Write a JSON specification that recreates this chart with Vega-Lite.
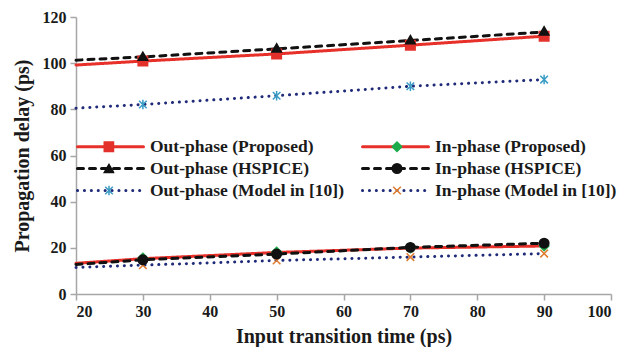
{
  "$schema": "https://vega.github.io/schema/vega-lite/v6.json",
  "width": 535,
  "height": 277,
  "autosize": "none",
  "padding": {"left": 76, "top": 17, "right": 13, "bottom": 53},
  "background": "white",
  "config": {
    "font": "Liberation Serif",
    "view": {"stroke": null},
    "axis": {
      "grid": false,
      "domainColor": "#a6a6a6",
      "domainWidth": 1.5,
      "tickColor": "#a6a6a6",
      "tickWidth": 1.5,
      "tickSize": 6,
      "labelFont": "Liberation Serif",
      "labelFontWeight": "bold",
      "labelFontSize": 16,
      "labelColor": "#1a1a1a",
      "titleFont": "Liberation Serif",
      "titleFontWeight": "bold",
      "titleFontSize": 20,
      "titleColor": "#1a1a1a"
    }
  },
  "datasets": {
    "lines": [
      {"series": "Out-phase (Proposed)", "t": 20, "delay": 99.2},
      {"series": "Out-phase (Proposed)", "t": 30, "delay": 100.9},
      {"series": "Out-phase (Proposed)", "t": 50, "delay": 104.0},
      {"series": "Out-phase (Proposed)", "t": 70, "delay": 107.8},
      {"series": "Out-phase (Proposed)", "t": 90, "delay": 111.7},
      {"series": "In-phase (Proposed)", "t": 20, "delay": 13.3},
      {"series": "In-phase (Proposed)", "t": 30, "delay": 15.3},
      {"series": "In-phase (Proposed)", "t": 50, "delay": 18.0},
      {"series": "In-phase (Proposed)", "t": 70, "delay": 19.9},
      {"series": "In-phase (Proposed)", "t": 90, "delay": 20.8},
      {"series": "Out-phase (Model in [10])", "t": 20, "delay": 80.5},
      {"series": "Out-phase (Model in [10])", "t": 30, "delay": 82.1},
      {"series": "Out-phase (Model in [10])", "t": 50, "delay": 85.9},
      {"series": "Out-phase (Model in [10])", "t": 70, "delay": 90.0},
      {"series": "Out-phase (Model in [10])", "t": 90, "delay": 92.9},
      {"series": "In-phase (Model in [10])", "t": 20, "delay": 11.5},
      {"series": "In-phase (Model in [10])", "t": 30, "delay": 12.5},
      {"series": "In-phase (Model in [10])", "t": 50, "delay": 14.5},
      {"series": "In-phase (Model in [10])", "t": 70, "delay": 16.0},
      {"series": "In-phase (Model in [10])", "t": 90, "delay": 17.5},
      {"series": "Out-phase (HSPICE)", "t": 20, "delay": 101.3},
      {"series": "Out-phase (HSPICE)", "t": 30, "delay": 102.7},
      {"series": "Out-phase (HSPICE)", "t": 50, "delay": 106.2},
      {"series": "Out-phase (HSPICE)", "t": 70, "delay": 109.8},
      {"series": "Out-phase (HSPICE)", "t": 90, "delay": 113.5},
      {"series": "In-phase (HSPICE)", "t": 20, "delay": 12.8},
      {"series": "In-phase (HSPICE)", "t": 30, "delay": 14.8},
      {"series": "In-phase (HSPICE)", "t": 50, "delay": 17.3},
      {"series": "In-phase (HSPICE)", "t": 70, "delay": 20.2},
      {"series": "In-phase (HSPICE)", "t": 90, "delay": 22.0}
    ],
    "markers": [
      {"name": "Out-phase (Proposed)", "t": 30, "delay": 100.9},
      {"name": "Out-phase (Proposed)", "t": 50, "delay": 104.0},
      {"name": "Out-phase (Proposed)", "t": 70, "delay": 107.8},
      {"name": "Out-phase (Proposed)", "t": 90, "delay": 111.7},
      {"name": "In-phase (Proposed)", "t": 30, "delay": 15.6},
      {"name": "In-phase (Proposed)", "t": 50, "delay": 18.2},
      {"name": "In-phase (Proposed)", "t": 70, "delay": 20.0},
      {"name": "In-phase (Proposed)", "t": 90, "delay": 20.8},
      {"name": "Out-phase (Model in [10])", "t": 30, "delay": 82.1},
      {"name": "Out-phase (Model in [10])", "t": 50, "delay": 85.9},
      {"name": "Out-phase (Model in [10])", "t": 70, "delay": 90.0},
      {"name": "Out-phase (Model in [10])", "t": 90, "delay": 92.9},
      {"name": "In-phase (Model in [10])", "t": 30, "delay": 12.5},
      {"name": "In-phase (Model in [10])", "t": 50, "delay": 14.5},
      {"name": "In-phase (Model in [10])", "t": 70, "delay": 16.0},
      {"name": "In-phase (Model in [10])", "t": 90, "delay": 17.5},
      {"name": "Out-phase (HSPICE)", "t": 30, "delay": 103.0},
      {"name": "Out-phase (HSPICE)", "t": 50, "delay": 106.6},
      {"name": "Out-phase (HSPICE)", "t": 70, "delay": 110.2},
      {"name": "Out-phase (HSPICE)", "t": 90, "delay": 114.0},
      {"name": "In-phase (HSPICE)", "t": 30, "delay": 14.8},
      {"name": "In-phase (HSPICE)", "t": 50, "delay": 17.3},
      {"name": "In-phase (HSPICE)", "t": 70, "delay": 20.2},
      {"name": "In-phase (HSPICE)", "t": 90, "delay": 22.0}
    ]
  },
  "layer": [
    {
      "data": {"name": "lines"},
      "mark": {"type": "line", "strokeWidth": 3, "strokeCap": "round"},
      "encoding": {
        "x": {
          "field": "t", "type": "quantitative",
          "scale": {"domain": [20, 100], "nice": false},
          "axis": {"values": [20, 30, 40, 50, 60, 70, 80, 90, 100], "title": "Input transition time (ps)", "labelPadding": 3, "titlePadding": 7}
        },
        "y": {
          "field": "delay", "type": "quantitative",
          "scale": {"domain": [0, 120], "nice": false},
          "axis": {"values": [0, 20, 40, 60, 80, 100, 120], "title": "Propagation delay (ps)", "labelPadding": 4, "titlePadding": 10}
        },
        "color": {
          "field": "series", "type": "nominal",
          "scale": {
            "domain": ["Out-phase (Proposed)", "Out-phase (HSPICE)", "Out-phase (Model in [10])", "In-phase (Proposed)", "In-phase (HSPICE)", "In-phase (Model in [10])"],
            "range": ["#e8302a", "#111111", "#1f2a78", "#e8302a", "#111111", "#1f2a78"]
          },
          "legend": {
            "orient": "none", "legendX": 0, "legendY": 118.75,
            "columns": 2, "columnPadding": 17, "rowPadding": 0, "clipHeight": 21.5,
            "title": null, "padding": 0, "zindex": 1,
            "symbolType": "stroke", "symbolSize": 4356, "symbolStrokeWidth": 3,
            "labelFont": "Liberation Serif", "labelFontWeight": "bold", "labelFontSize": 17.5,
            "labelColor": "#1a1a1a", "labelOffset": 5, "labelLimit": 400,
            "encode": {"symbols": {"update": {"strokeCap": {"value": "round"}}}}
          }
        },
        "strokeDash": {
          "field": "series", "type": "nominal",
          "scale": {
            "domain": ["Out-phase (Proposed)", "Out-phase (HSPICE)", "Out-phase (Model in [10])", "In-phase (Proposed)", "In-phase (HSPICE)", "In-phase (Model in [10])"],
            "range": [[1, 0], [6, 6], [0.1, 6.8], [1, 0], [6, 6], [0.1, 6.8]]
          }
        }
      }
    },
    {
      "data": {"name": "markers"},
      "mark": {"type": "point", "filled": true, "size": 90, "strokeWidth": 1.5, "opacity": 1},
      "encoding": {
        "x": {"field": "t", "type": "quantitative"},
        "y": {"field": "delay", "type": "quantitative"},
        "fill": {
          "field": "name", "type": "nominal",
          "scale": {
            "domain": ["Out-phase (Proposed)", "Out-phase (HSPICE)", "Out-phase (Model in [10])", "In-phase (Proposed)", "In-phase (HSPICE)", "In-phase (Model in [10])", "unused"],
            "range": ["#e3302a", "#111111", "#3a9cc4", "#1daa4a", "#111111", "#e07a2c", "#ffffff"]
          },
          "legend": {
            "orient": "none", "legendX": 0, "legendY": 118.75,
            "values": ["Out-phase (Proposed)", "Out-phase (HSPICE)", "Out-phase (Model in [10])", "In-phase (Proposed)", "In-phase (HSPICE)", "In-phase (Model in [10])"],
            "columns": 2, "columnPadding": 249, "rowPadding": 0, "clipHeight": 21.5,
            "title": null, "padding": 0, "zindex": 2,
            "symbolSize": 90, "symbolStrokeWidth": 1.5, "symbolOffset": 27.5,
            "labelExpr": "''", "labelOffset": 0, "labelFontSize": 1
          }
        },
        "stroke": {
          "field": "name", "type": "nominal",
          "scale": {
            "domain": ["Out-phase (Proposed)", "Out-phase (HSPICE)", "Out-phase (Model in [10])", "In-phase (Proposed)", "In-phase (HSPICE)", "In-phase (Model in [10])", "unused"],
            "range": ["#e3302a", "#111111", "#3a9cc4", "#1daa4a", "#111111", "#e07a2c", "#ffffff"]
          }
        },
        "shape": {
          "field": "name", "type": "nominal",
          "scale": {
            "domain": ["Out-phase (Proposed)", "Out-phase (HSPICE)", "Out-phase (Model in [10])", "In-phase (Proposed)", "In-phase (HSPICE)", "In-phase (Model in [10])", "unused"],
            "range": ["square", "triangle-up", "M-0.8,-0.8L0.8,0.8M-0.8,0.8L0.8,-0.8M0,-1L0,1", "diamond", "circle", "M-0.8,-0.8L0.8,0.8M-0.8,0.8L0.8,-0.8", "circle"]
          }
        }
      }
    }
  ]
}
